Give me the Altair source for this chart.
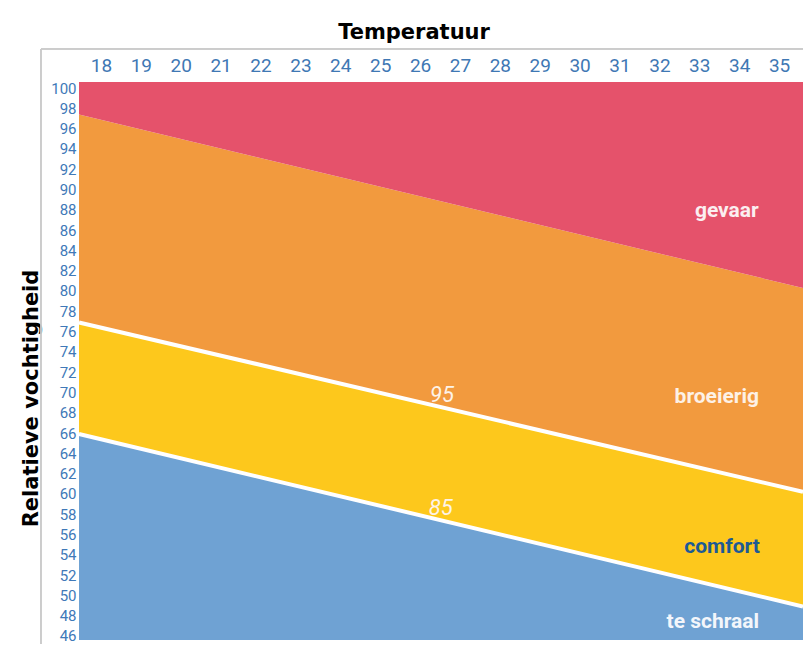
import altair as alt
import pandas as pd

# ---- data ----
temp_edges = [17.45, 35.6]          # left / right edge of the temperature range
hum_min, hum_max = 45.6, 100.6       # bottom / top of the humidity range
line_gevaar = [97.4, 80.3]          # boundary broeierig / gevaar
line_95 = [76.9, 60.2]              # boundary comfort / broeierig (95)
line_85 = [65.9, 48.9]              # boundary te schraal / comfort (85)

bands = ["te schraal", "comfort", "broeierig", "gevaar"]
band_colors = ["#6fa2d3", "#fdc81c", "#f29a3e", "#e5526b"]

temp_ticks = list(range(18, 36))
hum_ticks = list(range(46, 101, 2))

label_names = ["gevaar", "broeierig", "comfort", "te schraal"]
label_temp = [33.69, 33.44, 33.57, 33.34]
label_hum = [87.9, 69.55, 54.76, 47.37]
label_colors = ["#fbeef0", "#fdf1e6", "#1d5a94", "#f3f6fb"]

line_names = ["95", "85"]
line_label_temp = [26.55, 26.52]
line_label_hum = [69.75, 58.6]

# ---- tables ----
lows = {"te schraal": [hum_min, hum_min], "comfort": line_85,
        "broeierig": line_95, "gevaar": line_gevaar}
highs = {"te schraal": line_85, "comfort": line_95,
         "broeierig": line_gevaar, "gevaar": [hum_max, hum_max]}
rows = []
for b in bands:
    for i, t in enumerate(temp_edges):
        rows.append({"band": b, "T": t, "low": lows[b][i], "high": highs[b][i]})
band_df = pd.DataFrame(rows)

line_rows = []
for name, vals in zip(line_names, [line_95, line_85]):
    for t, v in zip(temp_edges, vals):
        line_rows.append({"line": name, "T": t, "H": v})
line_df = pd.DataFrame(line_rows)

label_df = pd.DataFrame({"name": label_names, "T": label_temp, "H": label_hum,
                         "c": label_colors})
line_label_df = pd.DataFrame({"name": line_names, "T": line_label_temp,
                              "H": line_label_hum})

W, H = 724, 558
narrow = "Roboto, Liberation Sans, sans-serif"
title_font = "DejaVu Sans"

xscale = alt.Scale(domain=[temp_edges[0], temp_edges[1]], nice=False, zero=False)
yscale = alt.Scale(domain=[hum_min, hum_max], nice=False, zero=False)

x_axis = alt.Axis(
    orient="top", values=temp_ticks, title="Temperatuur", grid=False,
    domain=False, ticks=False, tickSize=0, labelPadding=7,
    labelFont=narrow, labelFontSize=19, labelColor="#3f78b4",
    titleFont=title_font, titleFontSize=21, titleFontWeight="bold",
    titleColor="#000000", titleX=334.5, titleY=-44, titleBaseline="alphabetic",
    titleAlign="center", labelFlush=False, labelOverlap=False)
y_axis = alt.Axis(
    values=hum_ticks, title="Relatieve vochtigheid", grid=False,
    domain=False, ticks=False, tickSize=0, labelPadding=3,
    labelFont=narrow, labelFontSize=15, labelColor="#4079b8",
    titleFont=title_font, titleFontSize=21, titleFontWeight="bold",
    titleColor="#000000", titleX=-42, titleY=316, titleAngle=-90,
    titleBaseline="alphabetic", titleAlign="center",
    labelFlush=False, labelOverlap=False)

areas = alt.Chart(band_df).mark_area(interpolate="linear").encode(
    x=alt.X("T:Q", scale=xscale, axis=x_axis),
    y=alt.Y("low:Q", scale=yscale, axis=y_axis),
    y2="high:Q",
    color=alt.Color("band:N", scale=alt.Scale(domain=bands, range=band_colors),
                    legend=None),
    detail="band:N",
)

lines = alt.Chart(line_df).mark_line(color="white", strokeWidth=4).encode(
    x=alt.X("T:Q", scale=xscale, axis=x_axis),
    y=alt.Y("H:Q", scale=yscale, axis=y_axis),
    detail="line:N",
)

labels = alt.Chart(label_df).mark_text(
    font=narrow, fontSize=21, fontWeight="bold", align="center",
    baseline="middle").encode(
    x=alt.X("T:Q", scale=xscale, axis=x_axis),
    y=alt.Y("H:Q", scale=yscale, axis=y_axis),
    text="name:N",
    color=alt.Color("c:N", scale=None),
)

line_labels = alt.Chart(line_label_df).mark_text(
    font=narrow, fontSize=22, fontStyle="italic", color="#fdf3e8",
    align="center", baseline="middle").encode(
    x=alt.X("T:Q", scale=xscale, axis=x_axis),
    y=alt.Y("H:Q", scale=yscale, axis=y_axis),
    text="name:N",
)

# light frame around the chart panel (decoration)
frame_top = alt.Chart(label_df).mark_rule(color="#c9c9c9", strokeWidth=1).encode(
    x=alt.value(-38), x2=alt.value(W + 10), y=alt.value(-33))
frame_left = alt.Chart(label_df).mark_rule(color="#c9c9c9", strokeWidth=1).encode(
    x=alt.value(-38), y=alt.value(-33), y2=alt.value(H + 20))

chart = alt.layer(areas, lines, labels, line_labels, frame_top, frame_left).properties(
    width=W, height=H,
    autosize=alt.AutoSizeParams(type="none"),
    padding={"left": 71, "top": 74, "right": 0, "bottom": 4},
    background="white",
).configure_view(stroke=None).configure_axis(labelOverlap=False)

chart.save("out.html", embed_options={"renderer": "svg", "actions": False})
